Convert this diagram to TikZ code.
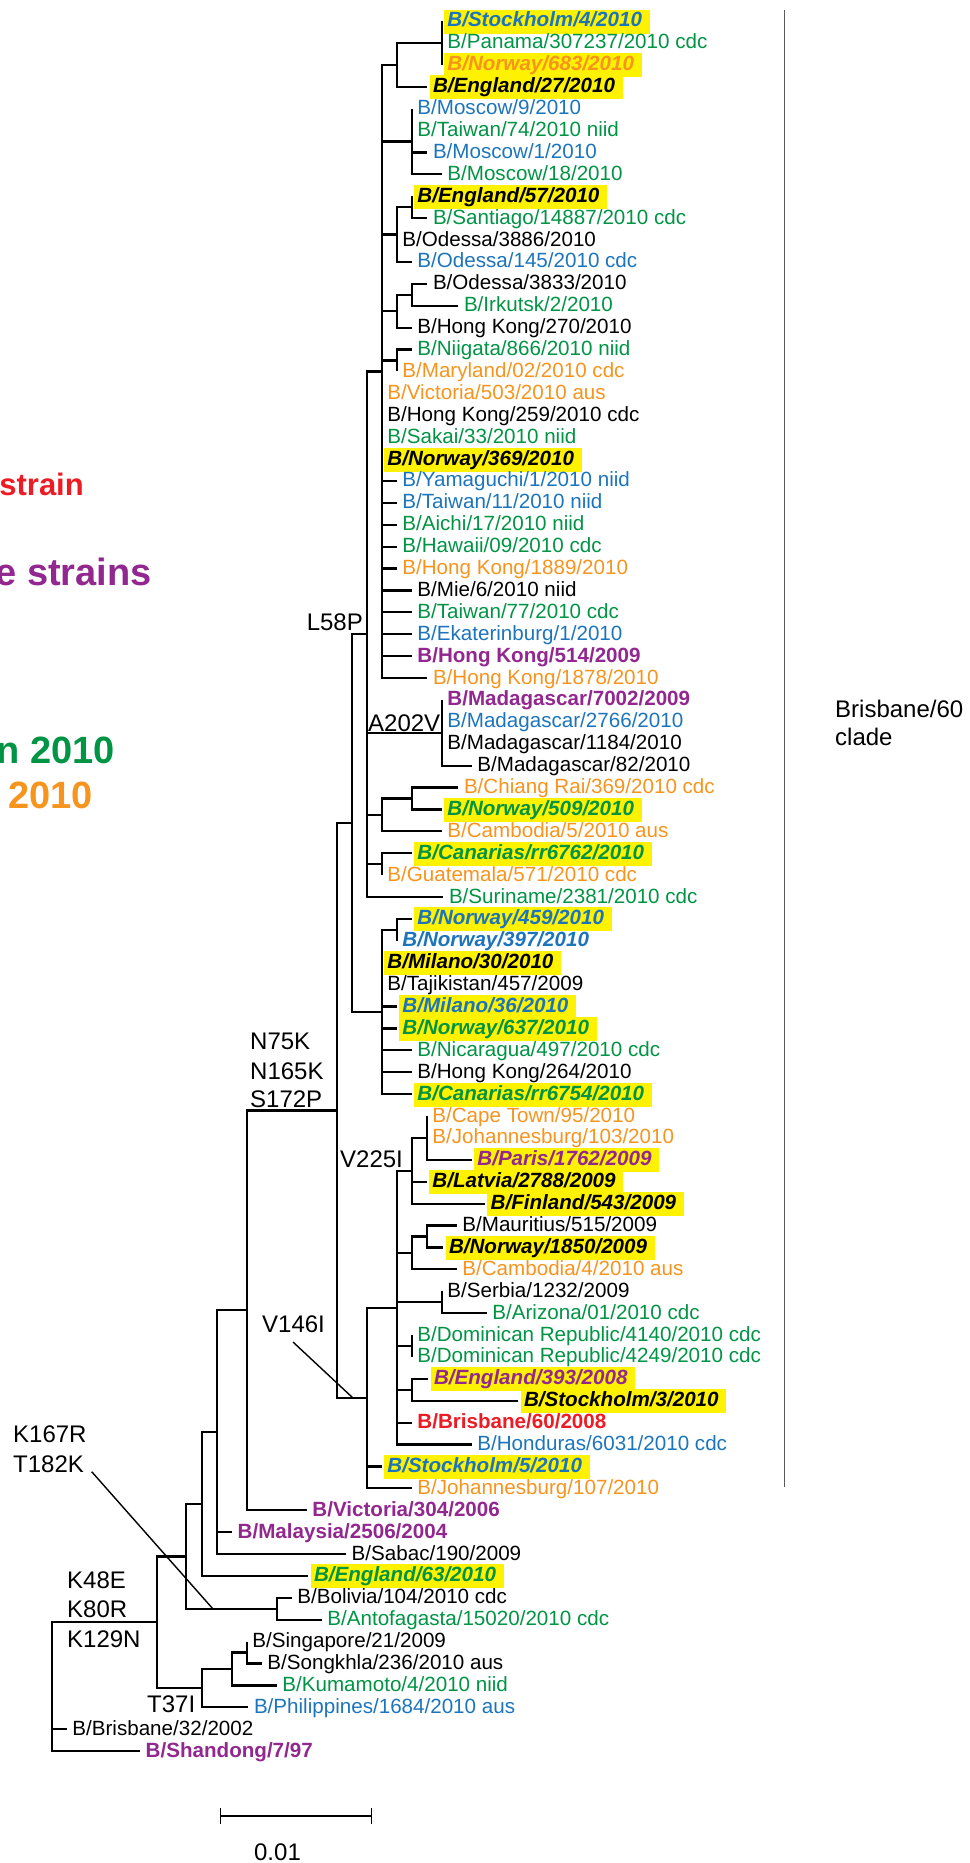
\documentclass[tikz,border=0pt]{standalone}
\usepackage{fontspec}
\setmainfont{Liberation Sans}
\definecolor{cb}{RGB}{28,117,188}
\definecolor{cg}{RGB}{0,148,68}
\definecolor{co}{RGB}{247,148,29}
\definecolor{cp}{RGB}{146,39,143}
\definecolor{cr}{RGB}{237,28,36}
\definecolor{hly}{RGB}{255,242,0}
\definecolor{brk}{RGB}{90,90,90}
\newcommand\lf{\fontsize{20.6}{24}\selectfont}
\newcommand\af{\fontsize{24}{28}\selectfont}
\tikzset{
  br/.style={line width=2.2pt, black},
  ptr/.style={line width=1.4pt, black},
  lab/.style={anchor=base west, inner xsep=3.5pt, inner ysep=2.5pt, text height=15pt, text depth=4pt, xshift=2pt, yshift=-6pt, font=\lf},
  hl/.style={fill=hly, execute at end node={\hspace{4pt}}},
  bi/.style={font=\lf\bfseries\itshape},
  bo/.style={font=\lf\bfseries},
  ann/.style={font=\af, inner sep=0pt},
  leg/.style={inner sep=0pt, anchor=base east}
}
\newcommand\lv[6]{%
  \coordinate (t#1) at (#2,#3);
  \draw[br] (#4) |- (t#1);
  \node[lab,#5] (l#1) at (t#1) {#6};
}
\begin{document}
\begin{tikzpicture}[x=1pt,y=-1pt]
\useasboundingbox (0,0) rectangle (969,1863);
% internal nodes
\coordinate (root) at (51.7,1686.7);
\coordinate (n156) at (156.7,1622.3);
\coordinate (n186) at (186,1556.4);
\coordinate (n201) at (201.7,1504.05);
\coordinate (n216) at (216.7,1432.2);
\coordinate (n246) at (246.7,1310.35);
\coordinate (n336) at (336.7,1110.5);
\coordinate (n351) at (351.7,823.1);
\coordinate (nL58) at (366.7,634.2);
\coordinate (nPoly) at (381.7,371.4);
\coordinate (nA) at (396.7,64.8);
\coordinate (nA1) at (441.7,42.9);
\coordinate (nMos) at (411.7,141.45);
\coordinate (nE57p) at (396.7,234.5);
\coordinate (nE57) at (411.7,207.15);
\coordinate (nOdp) at (396.7,311.2);
\coordinate (nOd) at (411.7,294.75);
\coordinate (nNi) at (396.7,360.45);
\coordinate (nMad) at (441.7,732.75);
\coordinate (nCRp) at (381.7,814.9);
\coordinate (nCR) at (411.7,798.45);
\coordinate (nCan) at (381.7,864.15);
\coordinate (nMil) at (381.7,1012);
\coordinate (nNo) at (396.7,929.85);
\coordinate (n146) at (366.7,1397.95);
\coordinate (nBig) at (396.7,1307.6);
\coordinate (n225) at (411.7,1170.75);
\coordinate (nCT) at (426.7,1137.9);
\coordinate (nMaup) at (411.7,1252.9);
\coordinate (nMau) at (426.7,1236.45);
\coordinate (nSer) at (441.7,1302.15);
\coordinate (nDR) at (411.7,1345.95);
\coordinate (nEng) at (411.7,1389.75);
\coordinate (nBol) at (276.7,1608.75);
\coordinate (nT37) at (201.7,1688.15);
\coordinate (nSinp) at (231.7,1668.98);
\coordinate (nSin) at (246.7,1652.55);
% internal edges
\draw[br] (root) |- (n156);
\draw[br] (n156) |- (n186);
\draw[br] (n156) |- (nT37);
\draw[br] (n186) |- (n201);
\draw[br] (n186) |- (nBol);
\draw[br] (n201) |- (n216);
\draw[br] (n216) |- (n246);
\draw[br] (n246) |- (n336);
\draw[br] (n336) |- (n351);
\draw[br] (n336) |- (n146);
\draw[br] (n351) |- (nL58);
\draw[br] (n351) |- (nMil);
\draw[br] (nL58) |- (nPoly);
\draw[br] (nL58) |- (nMad);
\draw[br] (nL58) |- (nCRp);
\draw[br] (nL58) |- (nCan);
\draw[br] (nPoly) |- (nA);
\draw[br] (nA) |- (nA1);
\draw[br] (nPoly) |- (nMos);
\draw[br] (nPoly) |- (nE57p);
\draw[br] (nE57p) |- (nE57);
\draw[br] (nPoly) |- (nOdp);
\draw[br] (nOdp) |- (nOd);
\draw[br] (nPoly) |- (nNi);
\draw[br] (nCRp) |- (nCR);
\draw[br] (nMil) |- (nNo);
\draw[br] (n146) |- (nBig);
\draw[br] (nBig) |- (n225);
\draw[br] (n225) |- (nCT);
\draw[br] (nBig) |- (nMaup);
\draw[br] (nMaup) |- (nMau);
\draw[br] (nBig) |- (nSer);
\draw[br] (nBig) |- (nDR);
\draw[br] (nBig) |- (nEng);
\draw[br] (nT37) |- (nSinp);
\draw[br] (nSinp) |- (nSin);
% leaves
\lv{1}{441.7}{21.0}{nA1}{text=cb,bi,hl}{B/Stockholm/4/2010}
\lv{2}{441.7}{42.9}{nA1}{text=cg}{B/Panama/307237/2010 cdc}
\lv{3}{441.7}{64.8}{nA1}{text=co,bi,hl}{B/Norway/683/2010}
\lv{4}{427.3}{86.7}{nA}{bi,hl}{B/England/27/2010}
\lv{5}{411.7}{108.6}{nMos}{text=cb}{B/Moscow/9/2010}
\lv{6}{411.7}{130.5}{nMos}{text=cg}{B/Taiwan/74/2010 niid}
\lv{7}{427.3}{152.4}{nMos}{text=cb}{B/Moscow/1/2010}
\lv{8}{441.7}{174.3}{nMos}{text=cg}{B/Moscow/18/2010}
\lv{9}{411.7}{196.2}{nE57}{bi,hl}{B/England/57/2010}
\lv{10}{427.3}{218.1}{nE57}{text=cg}{B/Santiago/14887/2010 cdc}
\lv{11}{396.7}{240.0}{nE57p}{}{B/Odessa/3886/2010}
\lv{12}{411.7}{261.9}{nE57p}{text=cb}{B/Odessa/145/2010 cdc}
\lv{13}{427.3}{283.8}{nOd}{}{B/Odessa/3833/2010}
\lv{14}{458.3}{305.7}{nOd}{text=cg}{B/Irkutsk/2/2010}
\lv{15}{411.7}{327.6}{nOdp}{}{B/Hong Kong/270/2010}
\lv{16}{411.7}{349.5}{nNi}{text=cg}{B/Niigata/866/2010 niid}
\lv{17}{396.7}{371.4}{nNi}{text=co}{B/Maryland/02/2010 cdc}
\lv{18}{381.7}{393.3}{nPoly}{text=co}{B/Victoria/503/2010 aus}
\lv{19}{381.7}{415.2}{nPoly}{}{B/Hong Kong/259/2010 cdc}
\lv{20}{381.7}{437.1}{nPoly}{text=cg}{B/Sakai/33/2010 niid}
\lv{21}{381.7}{459.0}{nPoly}{bi,hl}{B/Norway/369/2010}
\lv{22}{396.7}{480.9}{nPoly}{text=cb}{B/Yamaguchi/1/2010 niid}
\lv{23}{396.7}{502.8}{nPoly}{text=cb}{B/Taiwan/11/2010 niid}
\lv{24}{396.7}{524.7}{nPoly}{text=cg}{B/Aichi/17/2010 niid}
\lv{25}{396.7}{546.6}{nPoly}{text=cg}{B/Hawaii/09/2010 cdc}
\lv{26}{396.7}{568.5}{nPoly}{text=co}{B/Hong Kong/1889/2010}
\lv{27}{411.7}{590.4}{nPoly}{}{B/Mie/6/2010 niid}
\lv{28}{411.7}{612.3}{nPoly}{text=cg}{B/Taiwan/77/2010 cdc}
\lv{29}{411.7}{634.2}{nPoly}{text=cb}{B/Ekaterinburg/1/2010}
\lv{30}{411.7}{656.1}{nPoly}{text=cp,bo}{B/Hong Kong/514/2009}
\lv{31}{427.3}{678.0}{nPoly}{text=co}{B/Hong Kong/1878/2010}
\lv{32}{441.7}{699.9}{nMad}{text=cp,bo}{B/Madagascar/7002/2009}
\lv{33}{441.7}{721.8}{nMad}{text=cb}{B/Madagascar/2766/2010}
\lv{34}{441.7}{743.7}{nMad}{}{B/Madagascar/1184/2010}
\lv{35}{471.7}{765.6}{nMad}{}{B/Madagascar/82/2010}
\lv{36}{458.3}{787.5}{nCR}{text=co}{B/Chiang Rai/369/2010 cdc}
\lv{37}{441.7}{809.4}{nCR}{text=cg,bi,hl}{B/Norway/509/2010}
\lv{38}{441.7}{831.3}{nCRp}{text=co}{B/Cambodia/5/2010 aus}
\lv{39}{411.7}{853.2}{nCan}{text=cg,bi,hl}{B/Canarias/rr6762/2010}
\lv{40}{381.7}{875.1}{nCan}{text=co}{B/Guatemala/571/2010 cdc}
\lv{41}{443.3}{897.0}{nL58}{text=cg}{B/Suriname/2381/2010 cdc}
\lv{42}{411.7}{918.9}{nNo}{text=cb,bi,hl}{B/Norway/459/2010}
\lv{43}{396.7}{940.8}{nNo}{text=cb,bi}{B/Norway/397/2010}
\lv{44}{381.7}{962.7}{nMil}{bi,hl}{B/Milano/30/2010}
\lv{45}{381.7}{984.6}{nMil}{}{B/Tajikistan/457/2009}
\lv{46}{396.7}{1006.5}{nMil}{text=cb,bi,hl}{B/Milano/36/2010}
\lv{47}{396.7}{1028.4}{nMil}{text=cg,bi,hl}{B/Norway/637/2010}
\lv{48}{411.7}{1050.3}{nMil}{text=cg}{B/Nicaragua/497/2010 cdc}
\lv{49}{411.7}{1072.2}{nMil}{}{B/Hong Kong/264/2010}
\lv{50}{411.7}{1094.1}{nMil}{text=cg,bi,hl}{B/Canarias/rr6754/2010}
\lv{51}{426.7}{1116.0}{nCT}{text=co}{B/Cape Town/95/2010}
\lv{52}{426.7}{1137.9}{nCT}{text=co}{B/Johannesburg/103/2010}
\lv{53}{471.7}{1159.8}{nCT}{text=cp,bi,hl}{B/Paris/1762/2009}
\lv{54}{426.7}{1181.7}{n225}{bi,hl}{B/Latvia/2788/2009}
\lv{55}{485}{1203.6}{n225}{bi,hl}{B/Finland/543/2009}
\lv{56}{456.7}{1225.5}{nMau}{}{B/Mauritius/515/2009}
\lv{57}{443.3}{1247.4}{nMau}{bi,hl}{B/Norway/1850/2009}
\lv{58}{456.7}{1269.3}{nMaup}{text=co}{B/Cambodia/4/2010 aus}
\lv{59}{441.7}{1291.2}{nSer}{}{B/Serbia/1232/2009}
\lv{60}{486.7}{1313.1}{nSer}{text=cg}{B/Arizona/01/2010 cdc}
\lv{61}{411.7}{1335.0}{nDR}{text=cg}{B/Dominican Republic/4140/2010 cdc}
\lv{62}{411.7}{1356.9}{nDR}{text=cg}{B/Dominican Republic/4249/2010 cdc}
\lv{63}{428.3}{1378.8}{nEng}{text=cp,bi,hl}{B/England/393/2008}
\lv{64}{518.3}{1400.7}{nEng}{bi,hl}{B/Stockholm/3/2010}
\lv{65}{411.7}{1422.6}{nBig}{text=cr,bo}{B/Brisbane/60/2008}
\lv{66}{471.7}{1444.5}{nBig}{text=cb}{B/Honduras/6031/2010 cdc}
\lv{67}{381.7}{1466.4}{n146}{text=cb,bi,hl}{B/Stockholm/5/2010}
\lv{68}{411.7}{1488.3}{n146}{text=co}{B/Johannesburg/107/2010}
\lv{69}{306.7}{1510.2}{n246}{text=cp,bo}{B/Victoria/304/2006}
\lv{70}{232}{1532.1}{n216}{text=cp,bo}{B/Malaysia/2506/2004}
\lv{71}{346}{1554.0}{n216}{}{B/Sabac/190/2009}
\lv{72}{308.3}{1575.9}{n201}{text=cg,bi,hl}{B/England/63/2010}
\lv{73}{291.7}{1597.8}{nBol}{}{B/Bolivia/104/2010 cdc}
\lv{74}{321.7}{1619.7}{nBol}{text=cg}{B/Antofagasta/15020/2010 cdc}
\lv{75}{246.7}{1641.6}{nSin}{}{B/Singapore/21/2009}
\lv{76}{261.7}{1663.5}{nSin}{}{B/Songkhla/236/2010 aus}
\lv{77}{276.7}{1685.4}{nSinp}{text=cg}{B/Kumamoto/4/2010 niid}
\lv{78}{248.3}{1707.3}{nT37}{text=cb}{B/Philippines/1684/2010 aus}
\lv{79}{66.7}{1729.2}{root}{}{B/Brisbane/32/2002}
\lv{80}{140}{1751.1}{root}{text=cp,bo}{B/Shandong/7/97}
% mutation labels
\node[ann, anchor=base east] (mL58) at (363,630) {L58P};
\node[ann, anchor=base west] (mA202) at (368,731) {A202V};
\node[ann, anchor=base west] (mN75) at (250,1049) {N75K};
\node[ann, anchor=base west] (mN165) at (250,1079) {N165K};
\node[ann, anchor=base west] (mS172) at (250,1107) {S172P};
\node[ann, anchor=base west] (mV225) at (340,1167) {V225I};
\node[ann, anchor=base west] (mV146) at (262,1332) {V146I};
\node[ann, anchor=base west] (mK167) at (13,1442) {K167R};
\node[ann, anchor=base west] (mT182) at (13,1472) {T182K};
\node[ann, anchor=base west] (mK48) at (67,1588) {K48E};
\node[ann, anchor=base west] (mK80) at (67,1617) {K80R};
\node[ann, anchor=base west] (mK129) at (67,1647) {K129N};
\node[ann, anchor=base west] (mT37) at (147,1712) {T37I};
% pointers
\coordinate (s146) at (293,1342);
\coordinate (e146) at (353,1398);
\draw[ptr] (s146) -- (e146);
\coordinate (s167) at (91.7,1471.7);
\coordinate (e167) at (213.3,1609.3);
\draw[ptr] (s167) -- (e167);
% scale bar
\coordinate (sb1) at (220.7,1816);
\coordinate (sb2) at (371.7,1816);
\draw[ptr] (sb1) -- (sb2);
\draw[ptr] ([yshift=8pt]sb1) -- ([yshift=-8pt]sb1);
\draw[ptr] ([yshift=8pt]sb2) -- ([yshift=-8pt]sb2);
\node[ann, anchor=base] (sbl) at (277.5,1860) {0.01};
% clade bracket
\coordinate (bk1) at (784.5,10);
\coordinate (bk2) at (784.5,1487);
\draw[line width=1.6pt, brk] (bk1) -- (bk2);
\node[font=\af, inner sep=0pt, anchor=base west] (cl1) at (835,717) {Brisbane/60};
\node[font=\af, inner sep=0pt, anchor=base west] (cl2) at (835,745) {clade};
% legend fragments (cut by the left edge, as in the reference)
\node[leg, text=cr, font=\fontsize{31}{36}\selectfont\bfseries] (lg1) at (84,495) {strain};
\node[leg, text=cp, font=\fontsize{38}{44}\selectfont\bfseries] (lg2) at (152,585) {e strains};
\node[leg, text=cg, font=\fontsize{38}{44}\selectfont\bfseries] (lg3) at (115,763) {n 2010};
\node[leg, text=co, font=\fontsize{38}{44}\selectfont\bfseries] (lg4) at (93,808) {2010};
\end{tikzpicture}
\end{document}
